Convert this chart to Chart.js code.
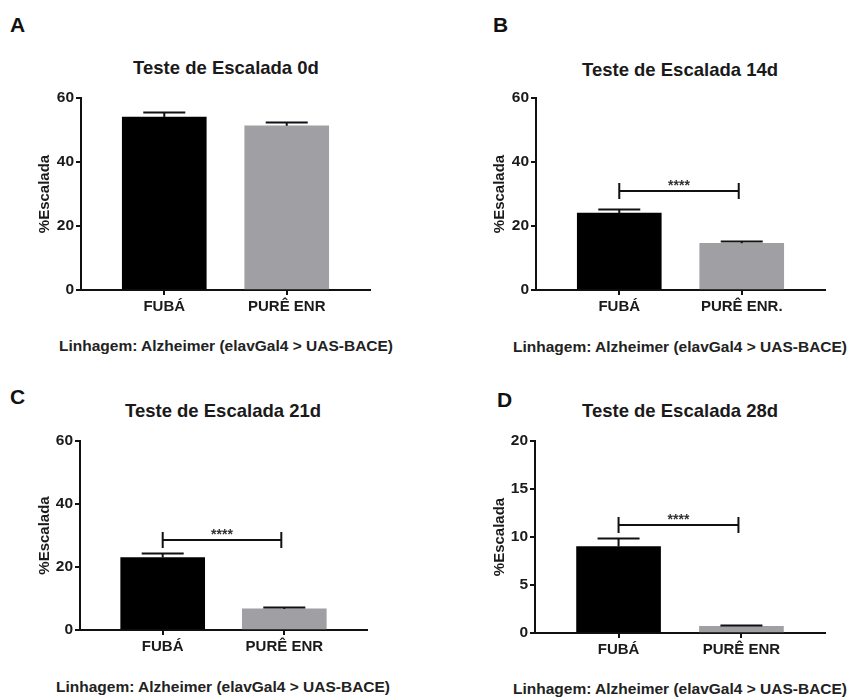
<!DOCTYPE html>
<html>
<head>
<meta charset="utf-8">
<script src="https://cdn.jsdelivr.net/npm/chart.js@4.4.1/dist/chart.umd.min.js"></script>
<style>
    body {
        margin: 0;
        width: 849px;
        height: 697px;
        position: relative;
        overflow: hidden;
        background: #fff;
        font-family: "Liberation Sans", Arial, sans-serif;
        color: #1a1a1a;
    }
    .letter { position: absolute; font-weight: bold; font-size: 21px; line-height: 1; color: #111; }
    .title, .caption { position: absolute; font-weight: bold; white-space: nowrap; transform: translate(-50%, -50%); }
    .title { font-size: 18.5px; color: #1a1a1a; }
    .caption { font-size: 15.5px; color: #222; }
    canvas { position: absolute; }
</style>
</head>
<body>
<script>
// Chart values, one entry per panel (A, B, C, D)
const panelLetters = ['A', 'B', 'C', 'D'];
const chartTitles = ['Teste de Escalada 0d', 'Teste de Escalada 14d', 'Teste de Escalada 21d', 'Teste de Escalada 28d'];
const groupLabels = [
    ['FUBÁ', 'PURÊ ENR'],
    ['FUBÁ', 'PURÊ ENR.'],
    ['FUBÁ', 'PURÊ ENR'],
    ['FUBÁ', 'PURÊ ENR']
];
const fubaMean = [54.0, 24.0, 23.0, 9.0];
const fubaErr = [1.7, 1.2, 1.5, 0.85];
const pureMean = [51.3, 14.6, 6.7, 0.7];
const pureErr = [1.3, 0.8, 0.5, 0.1];
const yMax = [60, 60, 60, 20];
const yStep = [20, 20, 20, 5];
const sigLevel = [null, 30.9, 28.7, 11.3];
const sigMark = ['', '****', '****', '****'];
const yAxisTitle = '%Escalada';
const captionText = 'Linhagem: Alzheimer (elavGal4 > UAS-BACE)';

// Where each panel sits on the page
const panelBoxes = [
    { left: 0,   top: 80,  w: 380, h: 240, yw: 81, letter: [10, 14],  title: [226, 68],  cap: [226, 346] },
    { left: 455, top: 80,  w: 380, h: 240, yw: 81, letter: [493, 14], title: [680, 70],  cap: [680, 347] },
    { left: 0,   top: 423, w: 377, h: 237, yw: 80, letter: [10, 386], title: [223, 411], cap: [223, 687] },
    { left: 455, top: 423, w: 380, h: 240, yw: 80, letter: [497, 389], title: [680, 411], cap: [680, 689] }
];

const FONT = '"Liberation Sans", Arial, sans-serif';
const INK = '#1a1a1a';

function addText(cls, text, x, y) {
    const el = document.createElement('div');
    el.className = cls;
    el.textContent = text;
    el.style.left = x + 'px';
    el.style.top = y + 'px';
    document.body.appendChild(el);
}

// error bars (upper half only) plus the significance bracket
function markersPlugin(p) {
    return {
        id: 'markers' + p,
        afterDatasetsDraw(chart) {
            const ctx = chart.ctx;
            const yScale = chart.scales.y;
            const bars = chart.getDatasetMeta(0).data;
            const tops = [fubaMean[p] + fubaErr[p], pureMean[p] + pureErr[p]];

            ctx.save();
            ctx.strokeStyle = '#111';
            ctx.lineWidth = 2;
            bars.forEach((bar, i) => {
                const yt = Math.round(yScale.getPixelForValue(tops[i])) + 0.5;
                ctx.beginPath();
                ctx.moveTo(bar.x, bar.y);
                ctx.lineTo(bar.x, yt);
                ctx.moveTo(bar.x - 21, yt);
                ctx.lineTo(bar.x + 21, yt);
                ctx.stroke();
            });

            if (sigLevel[p] !== null) {
                const ys = Math.round(yScale.getPixelForValue(sigLevel[p]));
                const x1 = bars[0].x;
                const x2 = bars[1].x - 3;
                ctx.beginPath();
                ctx.moveTo(x1, ys - 8);
                ctx.lineTo(x1, ys + 8);
                ctx.moveTo(x2, ys - 8);
                ctx.lineTo(x2, ys + 8);
                ctx.moveTo(x1, ys);
                ctx.lineTo(x2, ys);
                ctx.stroke();

                ctx.fillStyle = '#333';
                ctx.font = 'bold 14px ' + FONT;
                ctx.textAlign = 'center';
                ctx.textBaseline = 'middle';
                ctx.fillText(sigMark[p], (x1 + x2) / 2, ys - 5);
            }
            ctx.restore();
        }
    };
}

function buildPanel(p) {
    const box = panelBoxes[p];
    addText('letter', panelLetters[p], box.letter[0], box.letter[1]);
    addText('title', chartTitles[p], box.title[0], box.title[1]);
    addText('caption', captionText, box.cap[0], box.cap[1]);

    const canvas = document.createElement('canvas');
    canvas.width = box.w;
    canvas.height = box.h;
    canvas.style.left = box.left + 'px';
    canvas.style.top = box.top + 'px';
    document.body.appendChild(canvas);

    const axisGrid = {
        drawOnChartArea: false,
        drawTicks: true,
        tickLength: 5,
        color: '#111',
        lineWidth: 2
    };

    new Chart(canvas, {
        type: 'bar',
        data: {
            datasets: [{
                data: [
                    { x: 0, y: fubaMean[p] },
                    { x: 1, y: pureMean[p] }
                ],
                backgroundColor: ['#000000', '#a0a0a4'],
                borderWidth: 0,
                barThickness: 84
            }]
        },
        options: {
            responsive: false,
            animation: false,
            layout: { padding: { top: 18, right: 10, left: 0, bottom: 0 } },
            plugins: {
                legend: { display: false },
                tooltip: { enabled: false }
            },
            scales: {
                x: {
                    type: 'linear',
                    min: -0.68,
                    max: 1.68,
                    offset: false,
                    afterBuildTicks: (axis) => {
                        axis.ticks = [{ value: 0 }, { value: 1 }];
                    },
                    afterFit: (scale) => { scale.height = 30; },
                    ticks: {
                        callback: (value) => groupLabels[p][value],
                        font: { family: FONT, size: 15, weight: 'bold' },
                        color: INK,
                        padding: 3,
                        maxRotation: 0,
                        autoSkip: false
                    },
                    grid: Object.assign({ offset: false }, axisGrid),
                    border: { color: '#111', width: 2 }
                },
                y: {
                    min: 0,
                    max: yMax[p],
                    afterFit: (scale) => { scale.width = box.yw; },
                    ticks: {
                        stepSize: yStep[p],
                        font: { family: FONT, size: 15.5, weight: 'bold' },
                        color: INK,
                        padding: 2
                    },
                    grid: axisGrid,
                    border: { color: '#111', width: 2 },
                    title: {
                        display: true,
                        text: yAxisTitle,
                        font: { family: FONT, size: 15, weight: 'bold' },
                        color: INK,
                        padding: { top: 36, bottom: 0 }
                    }
                }
            }
        },
        plugins: [markersPlugin(p)]
    });
}

panelLetters.forEach((_, p) => buildPanel(p));
</script>
</body>
</html>
